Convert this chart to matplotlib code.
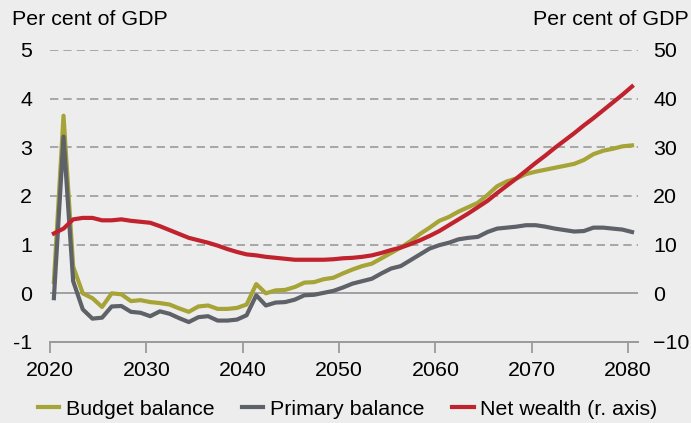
import matplotlib.pyplot as plt
import numpy as np

plt.rcParams['font.family'] = ['Liberation Sans', 'DejaVu Sans']

years = np.arange(2020, 2081)

budgetBalance = [
    0.23, 3.65, 0.55, 0.00, -0.10, -0.28, 0.00, -0.02, -0.16, -0.14,
    -0.18, -0.20, -0.23, -0.31, -0.38, -0.27, -0.25, -0.32, -0.32, -0.30,
    -0.23, 0.19, 0.00, 0.06, 0.07, 0.13, 0.22, 0.23, 0.29, 0.32,
    0.41, 0.49, 0.56, 0.61, 0.72, 0.83, 0.94, 1.07, 1.22, 1.35,
    1.49, 1.57, 1.68, 1.77, 1.86, 2.02, 2.20, 2.30, 2.36, 2.45,
    2.50, 2.54, 2.58, 2.62, 2.66, 2.74, 2.86, 2.93, 2.97, 3.02,
    3.04,
]

primaryBalance = [
    -0.10, 3.22, 0.25, -0.33, -0.52, -0.50, -0.27, -0.26, -0.38, -0.40,
    -0.47, -0.37, -0.42, -0.51, -0.59, -0.49, -0.47, -0.56, -0.56, -0.54,
    -0.45, -0.04, -0.25, -0.19, -0.18, -0.13, -0.04, -0.03, 0.01, 0.05,
    0.12, 0.20, 0.25, 0.30, 0.41, 0.51, 0.56, 0.68, 0.80, 0.92,
    0.99, 1.04, 1.11, 1.14, 1.16, 1.26, 1.33, 1.35, 1.37, 1.40,
    1.40, 1.37, 1.33, 1.30, 1.27, 1.28, 1.35, 1.35, 1.33, 1.31,
    1.26,
]

netWealth = [
    12.3, 13.3, 15.2, 15.5, 15.5, 15.0, 15.0, 15.2, 14.9, 14.7,
    14.5, 13.8, 13.0, 12.2, 11.4, 10.9, 10.4, 9.8, 9.1, 8.5,
    8.0, 7.8, 7.5, 7.3, 7.1, 6.9, 6.9, 6.9, 6.9, 7.0,
    7.2, 7.3, 7.5, 7.8, 8.3, 8.9, 9.4, 10.1, 10.9, 11.8,
    12.8, 14.0, 15.2, 16.4, 17.7, 19.0, 20.6, 22.1, 23.6, 25.2,
    26.8, 28.3, 29.9, 31.4, 32.9, 34.5, 36.0, 37.6, 39.2, 40.8,
    42.5,
]

leftTicks = [-1, 0, 1, 2, 3, 4, 5]
rightTicks = [-10, 0, 10, 20, 30, 40, 50]
xTicks = [2020, 2030, 2040, 2050, 2060, 2070, 2080]

bg = '#EDEDED'
olive = '#A6A337'
grey = '#5E6268'
red = '#C1232E'
gridGrey = '#9B9B9B'
fs = 15.4

fig = plt.figure(figsize=(6.91, 4.23), dpi=100, facecolor=bg)
ax = fig.add_axes([0.0724, 0.1915, 0.8506, 0.6903])
ax.set_facecolor(bg)

xPos = years + 0.4

for t in leftTicks[1:]:
    if t == 0:
        ax.axhline(t, color=gridGrey, lw=1.3, zorder=1)
    else:
        ax.axhline(t, color=gridGrey, lw=1.2, ls=(0, (5, 3)), zorder=1)

l1, = ax.plot(xPos, budgetBalance, color=olive, lw=3, label='Budget balance', zorder=3)
l2, = ax.plot(xPos, primaryBalance, color=grey, lw=3, label='Primary balance', zorder=4)

ax.set_xlim(2020, 2081)
ax.set_ylim(-1, 5)
ax.set_xticks(xTicks)
ax.set_yticks(leftTicks)
ax.set_yticklabels([str(t) for t in leftTicks])

ax2 = ax.twinx()
l3, = ax2.plot(xPos, netWealth, color=red, lw=3, label='Net wealth (r. axis)', zorder=5)
ax2.set_ylim(-10, 50)
ax2.set_yticks(rightTicks)

for a in (ax, ax2):
    for s in ('top', 'left', 'right'):
        a.spines[s].set_visible(False)
    a.spines['bottom'].set_color(gridGrey)
    a.spines['bottom'].set_linewidth(1.3)

ax.tick_params(axis='x', direction='out', length=8, width=1.3, color=gridGrey,
               labelsize=fs, pad=6)
ax.tick_params(axis='y', length=0, labelsize=fs, pad=13)
ax2.tick_params(axis='y', length=0, labelsize=fs, pad=11)

fig.text(0.017, 0.953, 'Per cent of GDP', fontsize=fs, ha='left', va='center')
fig.text(0.997, 0.953, 'Per cent of GDP', fontsize=fs, ha='right', va='center')

fig.legend(handles=[l1, l2, l3], loc='center', bbox_to_anchor=(0.503, 0.033),
           ncol=3, frameon=False, fontsize=fs, handlelength=1.0,
           handletextpad=0.3, columnspacing=1.3, borderaxespad=0)

fig.savefig('out.png', dpi=100, facecolor=bg)
